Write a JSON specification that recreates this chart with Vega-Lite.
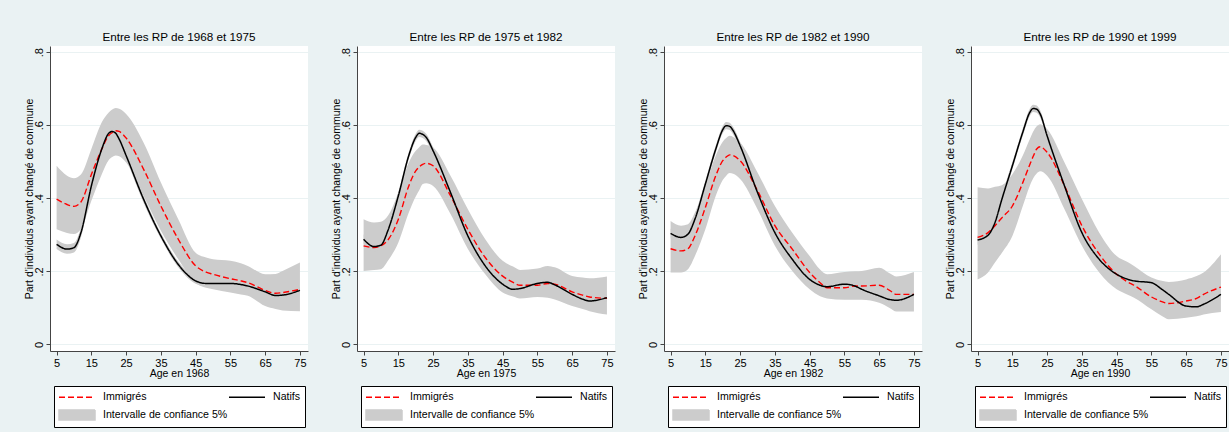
{
"$schema": "https://vega.github.io/schema/vega-lite/v6.json",
"padding": {"left": 24, "top": 32, "right": 0, "bottom": 8},
"datasets": {"d": [
{"p":1,"a":5,"imm":0.398,"nat":0.274,"ilo":0.315,"ihi":0.489,"nlo":0.261,"nhi":0.287},
{"p":1,"a":8,"imm":0.383,"nat":0.261,"ilo":0.305,"ihi":0.462,"nlo":0.248,"nhi":0.274},
{"p":1,"a":10,"imm":0.378,"nat":0.265,"ilo":0.302,"ihi":0.455,"nlo":0.252,"nhi":0.278},
{"p":1,"a":12,"imm":0.390,"nat":0.306,"ilo":0.315,"ihi":0.465,"nlo":0.293,"nhi":0.319},
{"p":1,"a":15,"imm":0.465,"nat":0.434,"ilo":0.393,"ihi":0.535,"nlo":0.424,"nhi":0.444},
{"p":1,"a":18,"imm":0.535,"nat":0.535,"ilo":0.466,"ihi":0.608,"nlo":0.525,"nhi":0.545},
{"p":1,"a":20,"imm":0.572,"nat":0.578,"ilo":0.505,"ihi":0.635,"nlo":0.568,"nhi":0.588},
{"p":1,"a":21,"imm":0.580,"nat":0.583,"ilo":0.513,"ihi":0.643,"nlo":0.573,"nhi":0.593},
{"p":1,"a":22,"imm":0.585,"nat":0.578,"ilo":0.517,"ihi":0.647,"nlo":0.568,"nhi":0.588},
{"p":1,"a":23,"imm":0.583,"nat":0.562,"ilo":0.515,"ihi":0.645,"nlo":0.552,"nhi":0.572},
{"p":1,"a":25,"imm":0.565,"nat":0.517,"ilo":0.498,"ihi":0.631,"nlo":0.507,"nhi":0.527},
{"p":1,"a":30,"imm":0.480,"nat":0.398,"ilo":0.407,"ihi":0.553,"nlo":0.388,"nhi":0.408},
{"p":1,"a":35,"imm":0.379,"nat":0.297,"ilo":0.311,"ihi":0.443,"nlo":0.289,"nhi":0.305},
{"p":1,"a":40,"imm":0.288,"nat":0.219,"ilo":0.233,"ihi":0.343,"nlo":0.211,"nhi":0.227},
{"p":1,"a":45,"imm":0.215,"nat":0.174,"ilo":0.168,"ihi":0.251,"nlo":0.166,"nhi":0.182},
{"p":1,"a":48,"imm":0.198,"nat":0.167,"ilo":0.155,"ihi":0.238,"nlo":0.159,"nhi":0.175},
{"p":1,"a":50,"imm":0.192,"nat":0.167,"ilo":0.151,"ihi":0.233,"nlo":0.159,"nhi":0.175},
{"p":1,"a":55,"imm":0.180,"nat":0.167,"ilo":0.142,"ihi":0.229,"nlo":0.159,"nhi":0.175},
{"p":1,"a":58,"imm":0.174,"nat":0.164,"ilo":0.137,"ihi":0.222,"nlo":0.156,"nhi":0.172},
{"p":1,"a":60,"imm":0.169,"nat":0.160,"ilo":0.133,"ihi":0.215,"nlo":0.152,"nhi":0.168},
{"p":1,"a":65,"imm":0.148,"nat":0.144,"ilo":0.105,"ihi":0.192,"nlo":0.134,"nhi":0.154},
{"p":1,"a":68,"imm":0.140,"nat":0.134,"ilo":0.097,"ihi":0.193,"nlo":0.124,"nhi":0.144},
{"p":1,"a":70,"imm":0.142,"nat":0.135,"ilo":0.093,"ihi":0.201,"nlo":0.125,"nhi":0.145},
{"p":1,"a":75,"imm":0.151,"nat":0.148,"ilo":0.091,"ihi":0.224,"nlo":0.138,"nhi":0.158},
{"p":2,"a":5,"imm":0.270,"nat":0.288,"ilo":0.201,"ihi":0.343,"nlo":0.275,"nhi":0.301},
{"p":2,"a":8,"imm":0.265,"nat":0.268,"ilo":0.204,"ihi":0.334,"nlo":0.255,"nhi":0.281},
{"p":2,"a":10,"imm":0.270,"nat":0.272,"ilo":0.206,"ihi":0.336,"nlo":0.259,"nhi":0.285},
{"p":2,"a":12,"imm":0.286,"nat":0.312,"ilo":0.229,"ihi":0.352,"nlo":0.299,"nhi":0.325},
{"p":2,"a":15,"imm":0.343,"nat":0.407,"ilo":0.279,"ihi":0.416,"nlo":0.397,"nhi":0.417},
{"p":2,"a":18,"imm":0.434,"nat":0.517,"ilo":0.361,"ihi":0.498,"nlo":0.507,"nhi":0.527},
{"p":2,"a":20,"imm":0.475,"nat":0.567,"ilo":0.405,"ihi":0.530,"nlo":0.557,"nhi":0.577},
{"p":2,"a":21,"imm":0.486,"nat":0.578,"ilo":0.422,"ihi":0.540,"nlo":0.568,"nhi":0.588},
{"p":2,"a":22,"imm":0.493,"nat":0.575,"ilo":0.439,"ihi":0.547,"nlo":0.565,"nhi":0.585},
{"p":2,"a":23,"imm":0.496,"nat":0.567,"ilo":0.441,"ihi":0.546,"nlo":0.557,"nhi":0.577},
{"p":2,"a":25,"imm":0.489,"nat":0.530,"ilo":0.434,"ihi":0.539,"nlo":0.520,"nhi":0.540},
{"p":2,"a":30,"imm":0.407,"nat":0.416,"ilo":0.357,"ihi":0.462,"nlo":0.406,"nhi":0.426},
{"p":2,"a":35,"imm":0.315,"nat":0.297,"ilo":0.261,"ihi":0.370,"nlo":0.289,"nhi":0.305},
{"p":2,"a":40,"imm":0.238,"nat":0.215,"ilo":0.192,"ihi":0.288,"nlo":0.207,"nhi":0.223},
{"p":2,"a":45,"imm":0.187,"nat":0.165,"ilo":0.142,"ihi":0.229,"nlo":0.157,"nhi":0.173},
{"p":2,"a":48,"imm":0.170,"nat":0.151,"ilo":0.131,"ihi":0.213,"nlo":0.143,"nhi":0.159},
{"p":2,"a":50,"imm":0.162,"nat":0.153,"ilo":0.126,"ihi":0.204,"nlo":0.145,"nhi":0.161},
{"p":2,"a":55,"imm":0.162,"nat":0.167,"ilo":0.130,"ihi":0.208,"nlo":0.159,"nhi":0.175},
{"p":2,"a":58,"imm":0.167,"nat":0.170,"ilo":0.128,"ihi":0.215,"nlo":0.162,"nhi":0.178},
{"p":2,"a":60,"imm":0.165,"nat":0.163,"ilo":0.123,"ihi":0.211,"nlo":0.155,"nhi":0.171},
{"p":2,"a":65,"imm":0.144,"nat":0.137,"ilo":0.105,"ihi":0.187,"nlo":0.127,"nhi":0.147},
{"p":2,"a":68,"imm":0.135,"nat":0.124,"ilo":0.097,"ihi":0.183,"nlo":0.114,"nhi":0.134},
{"p":2,"a":70,"imm":0.130,"nat":0.119,"ilo":0.091,"ihi":0.181,"nlo":0.109,"nhi":0.129},
{"p":2,"a":75,"imm":0.126,"nat":0.128,"ilo":0.082,"ihi":0.186,"nlo":0.118,"nhi":0.138},
{"p":3,"a":5,"imm":0.262,"nat":0.304,"ilo":0.197,"ihi":0.338,"nlo":0.291,"nhi":0.317},
{"p":3,"a":8,"imm":0.256,"nat":0.293,"ilo":0.197,"ihi":0.325,"nlo":0.280,"nhi":0.306},
{"p":3,"a":10,"imm":0.262,"nat":0.302,"ilo":0.206,"ihi":0.329,"nlo":0.289,"nhi":0.315},
{"p":3,"a":12,"imm":0.297,"nat":0.343,"ilo":0.242,"ihi":0.361,"nlo":0.330,"nhi":0.356},
{"p":3,"a":15,"imm":0.375,"nat":0.439,"ilo":0.315,"ihi":0.434,"nlo":0.429,"nhi":0.449},
{"p":3,"a":18,"imm":0.462,"nat":0.535,"ilo":0.407,"ihi":0.517,"nlo":0.525,"nhi":0.545},
{"p":3,"a":20,"imm":0.503,"nat":0.588,"ilo":0.450,"ihi":0.555,"nlo":0.578,"nhi":0.598},
{"p":3,"a":21,"imm":0.513,"nat":0.599,"ilo":0.462,"ihi":0.565,"nlo":0.589,"nhi":0.609},
{"p":3,"a":22,"imm":0.519,"nat":0.597,"ilo":0.469,"ihi":0.571,"nlo":0.587,"nhi":0.607},
{"p":3,"a":23,"imm":0.517,"nat":0.585,"ilo":0.467,"ihi":0.568,"nlo":0.575,"nhi":0.595},
{"p":3,"a":25,"imm":0.503,"nat":0.544,"ilo":0.453,"ihi":0.553,"nlo":0.534,"nhi":0.554},
{"p":3,"a":30,"imm":0.421,"nat":0.416,"ilo":0.370,"ihi":0.471,"nlo":0.406,"nhi":0.426},
{"p":3,"a":35,"imm":0.325,"nat":0.306,"ilo":0.270,"ihi":0.379,"nlo":0.298,"nhi":0.314},
{"p":3,"a":40,"imm":0.261,"nat":0.233,"ilo":0.201,"ihi":0.306,"nlo":0.225,"nhi":0.241},
{"p":3,"a":45,"imm":0.197,"nat":0.178,"ilo":0.151,"ihi":0.242,"nlo":0.170,"nhi":0.186},
{"p":3,"a":48,"imm":0.169,"nat":0.162,"ilo":0.132,"ihi":0.205,"nlo":0.154,"nhi":0.170},
{"p":3,"a":50,"imm":0.155,"nat":0.158,"ilo":0.126,"ihi":0.192,"nlo":0.150,"nhi":0.166},
{"p":3,"a":55,"imm":0.155,"nat":0.165,"ilo":0.122,"ihi":0.198,"nlo":0.157,"nhi":0.173},
{"p":3,"a":58,"imm":0.160,"nat":0.160,"ilo":0.122,"ihi":0.200,"nlo":0.152,"nhi":0.168},
{"p":3,"a":60,"imm":0.160,"nat":0.151,"ilo":0.122,"ihi":0.201,"nlo":0.143,"nhi":0.159},
{"p":3,"a":65,"imm":0.162,"nat":0.133,"ilo":0.114,"ihi":0.210,"nlo":0.123,"nhi":0.143},
{"p":3,"a":68,"imm":0.148,"nat":0.123,"ilo":0.100,"ihi":0.195,"nlo":0.113,"nhi":0.133},
{"p":3,"a":70,"imm":0.137,"nat":0.121,"ilo":0.090,"ihi":0.186,"nlo":0.111,"nhi":0.131},
{"p":3,"a":75,"imm":0.137,"nat":0.137,"ilo":0.090,"ihi":0.198,"nlo":0.127,"nhi":0.147},
{"p":4,"a":5,"imm":0.293,"nat":0.286,"ilo":0.178,"ihi":0.430,"nlo":0.273,"nhi":0.299},
{"p":4,"a":8,"imm":0.306,"nat":0.299,"ilo":0.197,"ihi":0.427,"nlo":0.286,"nhi":0.312},
{"p":4,"a":10,"imm":0.325,"nat":0.334,"ilo":0.224,"ihi":0.432,"nlo":0.321,"nhi":0.347},
{"p":4,"a":12,"imm":0.347,"nat":0.398,"ilo":0.251,"ihi":0.436,"nlo":0.385,"nhi":0.411},
{"p":4,"a":15,"imm":0.379,"nat":0.489,"ilo":0.297,"ihi":0.466,"nlo":0.479,"nhi":0.499},
{"p":4,"a":18,"imm":0.443,"nat":0.581,"ilo":0.379,"ihi":0.517,"nlo":0.571,"nhi":0.591},
{"p":4,"a":20,"imm":0.492,"nat":0.635,"ilo":0.434,"ihi":0.562,"nlo":0.625,"nhi":0.645},
{"p":4,"a":21,"imm":0.515,"nat":0.646,"ilo":0.455,"ihi":0.583,"nlo":0.636,"nhi":0.656},
{"p":4,"a":22,"imm":0.535,"nat":0.644,"ilo":0.468,"ihi":0.597,"nlo":0.634,"nhi":0.654},
{"p":4,"a":23,"imm":0.541,"nat":0.631,"ilo":0.474,"ihi":0.603,"nlo":0.621,"nhi":0.641},
{"p":4,"a":25,"imm":0.526,"nat":0.571,"ilo":0.462,"ihi":0.590,"nlo":0.561,"nhi":0.581},
{"p":4,"a":30,"imm":0.434,"nat":0.434,"ilo":0.370,"ihi":0.498,"nlo":0.424,"nhi":0.444},
{"p":4,"a":35,"imm":0.325,"nat":0.306,"ilo":0.270,"ihi":0.398,"nlo":0.298,"nhi":0.314},
{"p":4,"a":40,"imm":0.247,"nat":0.233,"ilo":0.197,"ihi":0.306,"nlo":0.225,"nhi":0.241},
{"p":4,"a":45,"imm":0.192,"nat":0.192,"ilo":0.151,"ihi":0.242,"nlo":0.184,"nhi":0.200},
{"p":4,"a":48,"imm":0.172,"nat":0.179,"ilo":0.137,"ihi":0.226,"nlo":0.171,"nhi":0.187},
{"p":4,"a":50,"imm":0.162,"nat":0.174,"ilo":0.128,"ihi":0.215,"nlo":0.166,"nhi":0.182},
{"p":4,"a":55,"imm":0.130,"nat":0.169,"ilo":0.096,"ihi":0.183,"nlo":0.161,"nhi":0.177},
{"p":4,"a":58,"imm":0.117,"nat":0.151,"ilo":0.078,"ihi":0.174,"nlo":0.143,"nhi":0.159},
{"p":4,"a":60,"imm":0.112,"nat":0.137,"ilo":0.069,"ihi":0.171,"nlo":0.129,"nhi":0.145},
{"p":4,"a":65,"imm":0.119,"nat":0.105,"ilo":0.073,"ihi":0.178,"nlo":0.095,"nhi":0.115},
{"p":4,"a":68,"imm":0.126,"nat":0.103,"ilo":0.077,"ihi":0.187,"nlo":0.093,"nhi":0.113},
{"p":4,"a":70,"imm":0.137,"nat":0.110,"ilo":0.082,"ihi":0.197,"nlo":0.100,"nhi":0.120},
{"p":4,"a":75,"imm":0.157,"nat":0.137,"ilo":0.089,"ihi":0.247,"nlo":0.127,"nhi":0.147}
]},
"data": {"name": "d"},
"spacing": 23,
"resolve": {"scale": {"color": "independent", "strokeDash": "independent", "shape": "independent", "x": "independent", "y": "independent"}, "legend": {"color": "independent", "strokeDash": "independent", "shape": "independent"}},
"hconcat": [
{
"width": 258, "height": 305,
"title": "Entre les RP de 1968 et 1975",
"transform": [{"filter": "datum.p == 1"}],
"encoding": {"x": {"field": "a", "type": "quantitative", "scale": {"domain": [3.1, 77.32], "nice": false, "zero": false}, "axis": {"values": [5,15,25,35,45,55,65,75]}, "title": "Age en 1968"}},
"layer": [
{"mark": {"type": "area", "interpolate": "monotone", "opacity": 1}, "encoding": {
 "y": {"field": "ihi", "type": "quantitative", "scale": {"domain": [-0.018, 0.817], "nice": false, "zero": false}, "axis": {"values": [0,0.2,0.4,0.6,0.8], "labelExpr": "datum.value == 0 ? '0' : '.' + round(datum.value*10)"}, "title": "Part d'individus ayant changé de commune"},
 "y2": {"field": "ilo"},
 "color": {"datum": "3 Intervalle de confiance 5%", "type": "nominal", "scale": {"domain": ["1 Immigrés", "2 Natifs", "3 Intervalle de confiance 5%"], "range": ["#ff0000", "#000000", "#cccccc"]},
  "legend": {"orient": "none", "direction": "horizontal", "legendX": 4, "legendY": 340, "columns": 2, "columnPadding": -19, "rowPadding": 4, "padding": 4, "strokeColor": "#000000", "fillColor": "#ffffff", "title": null, "labelFontSize": 10.6, "labelColor": "#000000", "labelOffset": 31, "labelLimit": 300, "symbolSize": 144, "symbolStrokeWidth": 1.5, "symbolOpacity": 1, "labelExpr": "substring(datum.label, 2)"}}}},
{"mark": {"type": "area", "interpolate": "monotone", "opacity": 1}, "encoding": {
 "y": {"field": "nhi", "type": "quantitative", "scale": {"domain": [-0.018, 0.817], "nice": false, "zero": false}, "title": "Part d'individus ayant changé de commune"},
 "y2": {"field": "nlo"},
 "color": {"datum": "3 Intervalle de confiance 5%", "type": "nominal", "scale": {"domain": ["1 Immigrés", "2 Natifs", "3 Intervalle de confiance 5%"], "range": ["#ff0000", "#000000", "#cccccc"]}}}},
{"mark": {"type": "line", "interpolate": "monotone", "strokeWidth": 1.4}, "encoding": {
 "y": {"field": "imm", "type": "quantitative", "scale": {"domain": [-0.018, 0.817], "nice": false, "zero": false}, "title": "Part d'individus ayant changé de commune"},
 "color": {"datum": "1 Immigrés", "type": "nominal", "scale": {"domain": ["1 Immigrés", "2 Natifs", "3 Intervalle de confiance 5%"], "range": ["#ff0000", "#000000", "#cccccc"]}},
 "strokeDash": {"datum": "1 Immigrés", "type": "nominal", "scale": {"domain": ["1 Immigrés", "2 Natifs", "3 Intervalle de confiance 5%"], "range": [[6,3],[1,0],[1,0]]}}}},
{"mark": {"type": "line", "interpolate": "monotone", "strokeWidth": 1.5}, "encoding": {
 "y": {"field": "nat", "type": "quantitative", "scale": {"domain": [-0.018, 0.817], "nice": false, "zero": false}, "title": "Part d'individus ayant changé de commune"},
 "color": {"datum": "2 Natifs", "type": "nominal", "scale": {"domain": ["1 Immigrés", "2 Natifs", "3 Intervalle de confiance 5%"], "range": ["#ff0000", "#000000", "#cccccc"]}},
 "strokeDash": {"datum": "2 Natifs", "type": "nominal", "scale": {"domain": ["1 Immigrés", "2 Natifs", "3 Intervalle de confiance 5%"], "range": [[6,3],[1,0],[1,0]]}}}},
{"mark": {"type": "point", "filled": false}, "transform": [{"filter": "false"}], "encoding": {
 "y": {"field": "nat", "type": "quantitative", "scale": {"domain": [-0.018, 0.817], "nice": false, "zero": false}, "title": "Part d'individus ayant changé de commune"},
 "color": {"datum": "2 Natifs", "type": "nominal", "scale": {"domain": ["1 Immigrés", "2 Natifs", "3 Intervalle de confiance 5%"], "range": ["#ff0000", "#000000", "#cccccc"]}},
 "shape": {"datum": "2 Natifs", "type": "nominal", "scale": {"domain": ["1 Immigrés", "2 Natifs", "3 Intervalle de confiance 5%"], "range": ["M-1,0H5", "M-1,0H5", "M-1,-0.83H5V0.83H-1Z"]}}}}
]
},
{
"width": 258, "height": 305,
"title": "Entre les RP de 1975 et 1982",
"transform": [{"filter": "datum.p == 2"}],
"encoding": {"x": {"field": "a", "type": "quantitative", "scale": {"domain": [3.1, 77.32], "nice": false, "zero": false}, "axis": {"values": [5,15,25,35,45,55,65,75]}, "title": "Age en 1975"}},
"layer": [
{"mark": {"type": "area", "interpolate": "monotone", "opacity": 1}, "encoding": {
 "y": {"field": "ihi", "type": "quantitative", "scale": {"domain": [-0.018, 0.817], "nice": false, "zero": false}, "axis": {"values": [0,0.2,0.4,0.6,0.8], "labelExpr": "datum.value == 0 ? '0' : '.' + round(datum.value*10)"}, "title": "Part d'individus ayant changé de commune"},
 "y2": {"field": "ilo"},
 "color": {"datum": "3 Intervalle de confiance 5%", "type": "nominal", "scale": {"domain": ["1 Immigrés", "2 Natifs", "3 Intervalle de confiance 5%"], "range": ["#ff0000", "#000000", "#cccccc"]},
  "legend": {"orient": "none", "direction": "horizontal", "legendX": 4, "legendY": 340, "columns": 2, "columnPadding": -19, "rowPadding": 4, "padding": 4, "strokeColor": "#000000", "fillColor": "#ffffff", "title": null, "labelFontSize": 10.6, "labelColor": "#000000", "labelOffset": 31, "labelLimit": 300, "symbolSize": 144, "symbolStrokeWidth": 1.5, "symbolOpacity": 1, "labelExpr": "substring(datum.label, 2)"}}}},
{"mark": {"type": "area", "interpolate": "monotone", "opacity": 1}, "encoding": {
 "y": {"field": "nhi", "type": "quantitative", "scale": {"domain": [-0.018, 0.817], "nice": false, "zero": false}, "title": "Part d'individus ayant changé de commune"},
 "y2": {"field": "nlo"},
 "color": {"datum": "3 Intervalle de confiance 5%", "type": "nominal", "scale": {"domain": ["1 Immigrés", "2 Natifs", "3 Intervalle de confiance 5%"], "range": ["#ff0000", "#000000", "#cccccc"]}}}},
{"mark": {"type": "line", "interpolate": "monotone", "strokeWidth": 1.4}, "encoding": {
 "y": {"field": "imm", "type": "quantitative", "scale": {"domain": [-0.018, 0.817], "nice": false, "zero": false}, "title": "Part d'individus ayant changé de commune"},
 "color": {"datum": "1 Immigrés", "type": "nominal", "scale": {"domain": ["1 Immigrés", "2 Natifs", "3 Intervalle de confiance 5%"], "range": ["#ff0000", "#000000", "#cccccc"]}},
 "strokeDash": {"datum": "1 Immigrés", "type": "nominal", "scale": {"domain": ["1 Immigrés", "2 Natifs", "3 Intervalle de confiance 5%"], "range": [[6,3],[1,0],[1,0]]}}}},
{"mark": {"type": "line", "interpolate": "monotone", "strokeWidth": 1.5}, "encoding": {
 "y": {"field": "nat", "type": "quantitative", "scale": {"domain": [-0.018, 0.817], "nice": false, "zero": false}, "title": "Part d'individus ayant changé de commune"},
 "color": {"datum": "2 Natifs", "type": "nominal", "scale": {"domain": ["1 Immigrés", "2 Natifs", "3 Intervalle de confiance 5%"], "range": ["#ff0000", "#000000", "#cccccc"]}},
 "strokeDash": {"datum": "2 Natifs", "type": "nominal", "scale": {"domain": ["1 Immigrés", "2 Natifs", "3 Intervalle de confiance 5%"], "range": [[6,3],[1,0],[1,0]]}}}},
{"mark": {"type": "point", "filled": false}, "transform": [{"filter": "false"}], "encoding": {
 "y": {"field": "nat", "type": "quantitative", "scale": {"domain": [-0.018, 0.817], "nice": false, "zero": false}, "title": "Part d'individus ayant changé de commune"},
 "color": {"datum": "2 Natifs", "type": "nominal", "scale": {"domain": ["1 Immigrés", "2 Natifs", "3 Intervalle de confiance 5%"], "range": ["#ff0000", "#000000", "#cccccc"]}},
 "shape": {"datum": "2 Natifs", "type": "nominal", "scale": {"domain": ["1 Immigrés", "2 Natifs", "3 Intervalle de confiance 5%"], "range": ["M-1,0H5", "M-1,0H5", "M-1,-0.83H5V0.83H-1Z"]}}}}
]
},
{
"width": 258, "height": 305,
"title": "Entre les RP de 1982 et 1990",
"transform": [{"filter": "datum.p == 3"}],
"encoding": {"x": {"field": "a", "type": "quantitative", "scale": {"domain": [3.1, 77.32], "nice": false, "zero": false}, "axis": {"values": [5,15,25,35,45,55,65,75]}, "title": "Age en 1982"}},
"layer": [
{"mark": {"type": "area", "interpolate": "monotone", "opacity": 1}, "encoding": {
 "y": {"field": "ihi", "type": "quantitative", "scale": {"domain": [-0.018, 0.817], "nice": false, "zero": false}, "axis": {"values": [0,0.2,0.4,0.6,0.8], "labelExpr": "datum.value == 0 ? '0' : '.' + round(datum.value*10)"}, "title": "Part d'individus ayant changé de commune"},
 "y2": {"field": "ilo"},
 "color": {"datum": "3 Intervalle de confiance 5%", "type": "nominal", "scale": {"domain": ["1 Immigrés", "2 Natifs", "3 Intervalle de confiance 5%"], "range": ["#ff0000", "#000000", "#cccccc"]},
  "legend": {"orient": "none", "direction": "horizontal", "legendX": 4, "legendY": 340, "columns": 2, "columnPadding": -19, "rowPadding": 4, "padding": 4, "strokeColor": "#000000", "fillColor": "#ffffff", "title": null, "labelFontSize": 10.6, "labelColor": "#000000", "labelOffset": 31, "labelLimit": 300, "symbolSize": 144, "symbolStrokeWidth": 1.5, "symbolOpacity": 1, "labelExpr": "substring(datum.label, 2)"}}}},
{"mark": {"type": "area", "interpolate": "monotone", "opacity": 1}, "encoding": {
 "y": {"field": "nhi", "type": "quantitative", "scale": {"domain": [-0.018, 0.817], "nice": false, "zero": false}, "title": "Part d'individus ayant changé de commune"},
 "y2": {"field": "nlo"},
 "color": {"datum": "3 Intervalle de confiance 5%", "type": "nominal", "scale": {"domain": ["1 Immigrés", "2 Natifs", "3 Intervalle de confiance 5%"], "range": ["#ff0000", "#000000", "#cccccc"]}}}},
{"mark": {"type": "line", "interpolate": "monotone", "strokeWidth": 1.4}, "encoding": {
 "y": {"field": "imm", "type": "quantitative", "scale": {"domain": [-0.018, 0.817], "nice": false, "zero": false}, "title": "Part d'individus ayant changé de commune"},
 "color": {"datum": "1 Immigrés", "type": "nominal", "scale": {"domain": ["1 Immigrés", "2 Natifs", "3 Intervalle de confiance 5%"], "range": ["#ff0000", "#000000", "#cccccc"]}},
 "strokeDash": {"datum": "1 Immigrés", "type": "nominal", "scale": {"domain": ["1 Immigrés", "2 Natifs", "3 Intervalle de confiance 5%"], "range": [[6,3],[1,0],[1,0]]}}}},
{"mark": {"type": "line", "interpolate": "monotone", "strokeWidth": 1.5}, "encoding": {
 "y": {"field": "nat", "type": "quantitative", "scale": {"domain": [-0.018, 0.817], "nice": false, "zero": false}, "title": "Part d'individus ayant changé de commune"},
 "color": {"datum": "2 Natifs", "type": "nominal", "scale": {"domain": ["1 Immigrés", "2 Natifs", "3 Intervalle de confiance 5%"], "range": ["#ff0000", "#000000", "#cccccc"]}},
 "strokeDash": {"datum": "2 Natifs", "type": "nominal", "scale": {"domain": ["1 Immigrés", "2 Natifs", "3 Intervalle de confiance 5%"], "range": [[6,3],[1,0],[1,0]]}}}},
{"mark": {"type": "point", "filled": false}, "transform": [{"filter": "false"}], "encoding": {
 "y": {"field": "nat", "type": "quantitative", "scale": {"domain": [-0.018, 0.817], "nice": false, "zero": false}, "title": "Part d'individus ayant changé de commune"},
 "color": {"datum": "2 Natifs", "type": "nominal", "scale": {"domain": ["1 Immigrés", "2 Natifs", "3 Intervalle de confiance 5%"], "range": ["#ff0000", "#000000", "#cccccc"]}},
 "shape": {"datum": "2 Natifs", "type": "nominal", "scale": {"domain": ["1 Immigrés", "2 Natifs", "3 Intervalle de confiance 5%"], "range": ["M-1,0H5", "M-1,0H5", "M-1,-0.83H5V0.83H-1Z"]}}}}
]
},
{
"width": 258, "height": 305,
"title": "Entre les RP de 1990 et 1999",
"transform": [{"filter": "datum.p == 4"}],
"encoding": {"x": {"field": "a", "type": "quantitative", "scale": {"domain": [3.1, 77.32], "nice": false, "zero": false}, "axis": {"values": [5,15,25,35,45,55,65,75]}, "title": "Age en 1990"}},
"layer": [
{"mark": {"type": "area", "interpolate": "monotone", "opacity": 1}, "encoding": {
 "y": {"field": "ihi", "type": "quantitative", "scale": {"domain": [-0.018, 0.817], "nice": false, "zero": false}, "axis": {"values": [0,0.2,0.4,0.6,0.8], "labelExpr": "datum.value == 0 ? '0' : '.' + round(datum.value*10)"}, "title": "Part d'individus ayant changé de commune"},
 "y2": {"field": "ilo"},
 "color": {"datum": "3 Intervalle de confiance 5%", "type": "nominal", "scale": {"domain": ["1 Immigrés", "2 Natifs", "3 Intervalle de confiance 5%"], "range": ["#ff0000", "#000000", "#cccccc"]},
  "legend": {"orient": "none", "direction": "horizontal", "legendX": 4, "legendY": 340, "columns": 2, "columnPadding": -19, "rowPadding": 4, "padding": 4, "strokeColor": "#000000", "fillColor": "#ffffff", "title": null, "labelFontSize": 10.6, "labelColor": "#000000", "labelOffset": 31, "labelLimit": 300, "symbolSize": 144, "symbolStrokeWidth": 1.5, "symbolOpacity": 1, "labelExpr": "substring(datum.label, 2)"}}}},
{"mark": {"type": "area", "interpolate": "monotone", "opacity": 1}, "encoding": {
 "y": {"field": "nhi", "type": "quantitative", "scale": {"domain": [-0.018, 0.817], "nice": false, "zero": false}, "title": "Part d'individus ayant changé de commune"},
 "y2": {"field": "nlo"},
 "color": {"datum": "3 Intervalle de confiance 5%", "type": "nominal", "scale": {"domain": ["1 Immigrés", "2 Natifs", "3 Intervalle de confiance 5%"], "range": ["#ff0000", "#000000", "#cccccc"]}}}},
{"mark": {"type": "line", "interpolate": "monotone", "strokeWidth": 1.4}, "encoding": {
 "y": {"field": "imm", "type": "quantitative", "scale": {"domain": [-0.018, 0.817], "nice": false, "zero": false}, "title": "Part d'individus ayant changé de commune"},
 "color": {"datum": "1 Immigrés", "type": "nominal", "scale": {"domain": ["1 Immigrés", "2 Natifs", "3 Intervalle de confiance 5%"], "range": ["#ff0000", "#000000", "#cccccc"]}},
 "strokeDash": {"datum": "1 Immigrés", "type": "nominal", "scale": {"domain": ["1 Immigrés", "2 Natifs", "3 Intervalle de confiance 5%"], "range": [[6,3],[1,0],[1,0]]}}}},
{"mark": {"type": "line", "interpolate": "monotone", "strokeWidth": 1.5}, "encoding": {
 "y": {"field": "nat", "type": "quantitative", "scale": {"domain": [-0.018, 0.817], "nice": false, "zero": false}, "title": "Part d'individus ayant changé de commune"},
 "color": {"datum": "2 Natifs", "type": "nominal", "scale": {"domain": ["1 Immigrés", "2 Natifs", "3 Intervalle de confiance 5%"], "range": ["#ff0000", "#000000", "#cccccc"]}},
 "strokeDash": {"datum": "2 Natifs", "type": "nominal", "scale": {"domain": ["1 Immigrés", "2 Natifs", "3 Intervalle de confiance 5%"], "range": [[6,3],[1,0],[1,0]]}}}},
{"mark": {"type": "point", "filled": false}, "transform": [{"filter": "false"}], "encoding": {
 "y": {"field": "nat", "type": "quantitative", "scale": {"domain": [-0.018, 0.817], "nice": false, "zero": false}, "title": "Part d'individus ayant changé de commune"},
 "color": {"datum": "2 Natifs", "type": "nominal", "scale": {"domain": ["1 Immigrés", "2 Natifs", "3 Intervalle de confiance 5%"], "range": ["#ff0000", "#000000", "#cccccc"]}},
 "shape": {"datum": "2 Natifs", "type": "nominal", "scale": {"domain": ["1 Immigrés", "2 Natifs", "3 Intervalle de confiance 5%"], "range": ["M-1,0H5", "M-1,0H5", "M-1,-0.83H5V0.83H-1Z"]}}}}
]
}
],
"config": {
 "background": "#eaf2f3",
 "font": "Liberation Sans",
 "view": {"fill": "#ffffff", "stroke": null},
 "title": {"fontSize": 11.7, "fontWeight": "normal", "color": "#000000", "offset": 2},
 "axis": {"domainColor": "#444444", "tickColor": "#444444", "labelColor": "#000000", "titleColor": "#000000", "labelFontSize": 11, "titleFontSize": 10.5, "titleFontWeight": "normal", "tickSize": 4, "labelFont": "Liberation Sans", "titleFont": "Liberation Sans"},
 "axisX": {"grid": false, "labelPadding": 2, "titlePadding": 0},
 "axisY": {"gridColor": "#eaf2f3", "gridOpacity": 1, "labelAngle": -90, "labelPadding": 2, "titlePadding": -1},
 "legend": {"labelFont": "Liberation Sans"}
}
}
